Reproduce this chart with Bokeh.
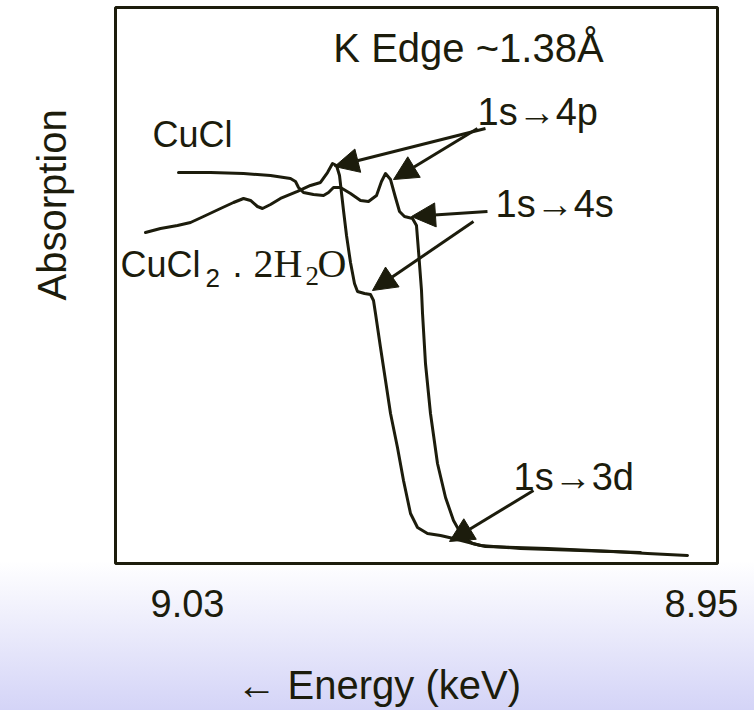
from bokeh.plotting import figure
from bokeh.models import (Range1d, FixedTicker, PrintfTickFormatter, Label, Arrow,
                          NormalHead, LinearAxis, Title)
from bokeh.embed import file_html
from bokeh.resources import INLINE

# ---- data (energy in keV, absorption in arbitrary units) ----
cucl_energy = [9.03140, 9.02642, 9.02128, 9.01708, 9.01397, 9.01319, 9.01272, 9.01195,
               9.01039, 9.00883, 9.00805, 9.00728, 9.00619, 9.00463, 9.00307, 9.00183,
               9.00058, 8.99981, 8.99918, 8.99840, 8.99763, 8.99700, 8.99623, 8.99498,
               8.99436, 8.99405, 8.99358, 8.99342, 8.99296, 8.99218, 8.99109, 8.98984,
               8.98860, 8.98720, 8.98564, 8.98362, 8.97397, 8.96370, 8.95840, 8.95218]
cucl_abs = [0.7032, 0.7032, 0.7014, 0.6978, 0.6924, 0.6871, 0.6763, 0.6673,
            0.6637, 0.6619, 0.6673, 0.6763, 0.6763, 0.6655, 0.6529, 0.6511,
            0.6619, 0.6871, 0.7014, 0.6906, 0.6583, 0.6331, 0.6241, 0.6205,
            0.6079, 0.5629, 0.4910, 0.4496, 0.3597, 0.2698, 0.1799, 0.1187,
            0.0773, 0.0486, 0.0360, 0.0306, 0.0270, 0.0216, 0.0180, 0.0144]

cucl2_energy = [9.03654, 9.03420, 9.03156, 9.02953, 9.02751, 9.02486, 9.02284, 9.02128,
                9.02019, 9.01911, 9.01833, 9.01708, 9.01553, 9.01288, 9.01086, 9.00930,
                9.00821, 9.00743, 9.00681, 9.00634, 9.00572, 9.00525, 9.00463, 9.00401,
                9.00354, 9.00245, 9.00152, 9.00105, 9.00074, 8.99996, 8.99918, 8.99840,
                8.99732, 8.99638, 8.99529, 8.99420, 8.99265, 8.99062, 8.98860, 8.98440,
                8.97817, 8.96883, 8.95949]
cucl2_abs = [0.5953, 0.6025, 0.6079, 0.6133, 0.6241, 0.6385, 0.6493, 0.6565,
             0.6529, 0.6421, 0.6385, 0.6457, 0.6565, 0.6691, 0.6799, 0.6853,
             0.7032, 0.7194, 0.7158, 0.6978, 0.6349, 0.5899, 0.5414, 0.5036,
             0.4892, 0.4856, 0.4838, 0.4730, 0.4496, 0.3885, 0.3291, 0.2698,
             0.2086, 0.1493, 0.0899, 0.0647, 0.0540, 0.0504, 0.0450, 0.0324,
             0.0270, 0.0234, 0.0198]

tick_values = [9.03, 8.95]

# annotation arrows: (label, x_start, y_start, x_end, y_end)
arrows = [
    ("1s→4p", 8.98362, 0.7824, 9.00712, 0.7140),
    ("1s→4p", 8.98486, 0.7824, 8.99794, 0.6906),
    ("1s→4s", 8.98331, 0.6331, 8.99514, 0.6241),
    ("1s→4s", 8.98549, 0.6151, 9.00121, 0.4910),
    ("1s→3d", 8.97615, 0.1313, 8.98922, 0.0396),
]

INK = "#1c1c0c"
SANS = "Liberation Sans"
SERIF = "Liberation Serif"

p = figure(width=754, height=710, output_backend="svg", toolbar_location=None,
           x_range=Range1d(9.041206, 8.94751), y_range=Range1d(0, 1),
           y_axis_location=None,
           min_border_left=115, min_border_right=37, min_border_top=7,
           min_border_bottom=147)

p.background_fill_color = "white"
p.border_fill_color = None
p.styles = {"background": "linear-gradient(to bottom, #ffffff 0%, #ffffff 79%, #d4d4f7 100%)"}
p.outline_line_color = INK
p.outline_line_width = 3
p.grid.visible = False

ax = p.xaxis[0]
ax.ticker = FixedTicker(ticks=tick_values)
ax.formatter = PrintfTickFormatter(format="%.2f")
ax.axis_line_color = None
ax.major_tick_line_color = None
ax.minor_tick_line_color = None
ax.major_tick_out = 0
ax.major_tick_in = 0
ax.minor_tick_out = 0
ax.minor_tick_in = 0
ax.major_label_standoff = 26
ax.major_label_text_font = SANS
ax.major_label_text_font_size = "38px"
ax.major_label_text_color = INK


def spacer(size, tick):
    # an empty, invisible axis used only to reserve room in a side panel
    return LinearAxis(ticker=FixedTicker(ticks=[tick]), major_tick_out=size, major_tick_in=0,
                      minor_tick_out=0, minor_tick_in=0, major_label_standoff=0,
                      major_label_overrides={tick: ""}, major_label_text_font_size="1px",
                      axis_line_color=None, major_tick_line_color=None,
                      minor_tick_line_color=None)


# axis titles (placed in side panels so they are not clipped)
p.add_layout(spacer(41, 9.0), "below")
p.add_layout(Title(text="← Energy (keV)", align="left", offset=121, vertical_align="bottom",
                   standoff=0, text_font=SANS, text_font_size="40px",
                   text_font_style="normal", text_color=INK), "below")
p.add_layout(spacer(42, 0.5), "left")
p.add_layout(Title(text="Absorption", align="left", offset=263, vertical_align="bottom",
                   standoff=0, text_font=SANS, text_font_size="40px",
                   text_font_style="normal", text_color=INK), "left")

p.line(cucl_energy, cucl_abs, line_color=INK, line_width=3, line_join="round", line_cap="round")
p.line(cucl2_energy, cucl2_abs, line_color=INK, line_width=3, line_join="round", line_cap="round")

for _, xs, ys, xe, ye in arrows:
    p.add_layout(Arrow(end=NormalHead(size=24, fill_color=INK, line_color=INK, line_width=1),
                       x_start=xs, y_start=ys, x_end=xe, y_end=ye,
                       line_color=INK, line_width=3))


def lab(x, y, text, size, font=SANS, align="left"):
    p.add_layout(Label(x=x, y=y, text=text, text_font=font, text_font_size=size,
                       text_color=INK, text_align=align, text_baseline="alphabetic"))


lab(8.98627, 0.9270, "K Edge ~1.38Å", "40px", align="center")
lab(9.03545, 0.7716, "CuCl", "36px")
lab(9.04043, 0.5378, "CuCl", "36px")
lab(9.02720, 0.5133, "2", "26px")
lab(9.02300, 0.5378, ".", "36px")
lab(9.01973, 0.5403, "2H", "40px", font=SERIF)
lab(9.01163, 0.5175, "2", "27px", font=SERIF)
lab(9.00977, 0.5403, "O", "40px", font=SERIF)
lab(8.98486, 0.8124, "1s→4p", "38px")
lab(8.98206, 0.6469, "1s→4s", "38px")
lab(8.97926, 0.1559, "1s→3d", "38px")

open("out.html", "w").write(file_html(p, INLINE))
